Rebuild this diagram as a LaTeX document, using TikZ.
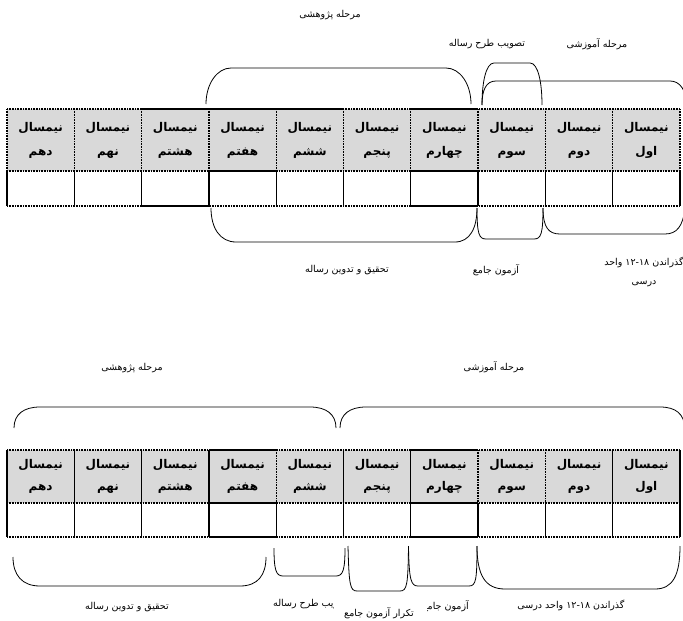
\documentclass[tikz,border=0pt]{standalone}
\usepackage{fontspec}
\usetikzlibrary{positioning}
\newfontfamily\farsi[Script=Arabic]{DejaVu Sans}
\TeXXeTstate=1
\newcommand{\fa}[1]{\beginR #1\endR}
\newlength{\cutlen}
\definecolor{headgray}{RGB}{217,217,217}

\begin{document}
\settowidth{\cutlen}{\farsi\fontsize{9.5}{18}\selectfont\fa{یب طرح رساله}}
\begin{tikzpicture}[x=1pt, y=-1pt, node distance = 67.3pt,
  head/.style={fill=headgray, minimum width=67.3pt, minimum height=62pt, inner sep=0pt, outer sep=0pt, align=center, font=\farsi\bfseries\fontsize{12}{24}\selectfont},
  lowhead/.style={head, minimum height=53pt, font=\farsi\bfseries\fontsize{12}{22}\selectfont},
  cell/.style={minimum width=67.3pt, minimum height=35pt, inner sep=0pt, outer sep=0pt},
  lowcell/.style={cell, minimum height=34pt},
  dots/.style={line width=1.3pt, dash pattern=on 0.8pt off 0.8pt},
  bar/.style={line width=1.3pt},
  brace/.style={line width=0.8pt},
  note/.style={font=\farsi\fontsize{9.5}{19}\selectfont, inner sep=0pt, align=center}]
          \useasboundingbox (0,0) rectangle (683,621);
          % first table
          \node[head](1)  at (646.35,140)   {\fa{نیمسال}\\\fa{اول}};
          \node[head](2)  [left of = 1]     {\fa{نیمسال}\\\fa{دوم}};
          \node[head](3)  [left of = 2]     {\fa{نیمسال}\\\fa{سوم}};
          \node[head](4)  [left of = 3]     {\fa{نیمسال}\\\fa{چهارم}};
          \node[head](5)  [left of = 4]     {\fa{نیمسال}\\\fa{پنجم}};
          \node[head](6)  [left of = 5]     {\fa{نیمسال}\\\fa{ششم}};
          \node[head](7)  [left of = 6]     {\fa{نیمسال}\\\fa{هفتم}};
          \node[head](8)  [left of = 7]     {\fa{نیمسال}\\\fa{هشتم}};
          \node[head](9)  [left of = 8]     {\fa{نیمسال}\\\fa{نهم}};
          \node[head](10) [left of = 9]     {\fa{نیمسال}\\\fa{دهم}};
          \node[cell](11) [node distance = 48.5pt, below of = 1] {};
          \node[cell](12) [left of = 11]    {};
          \node[cell](13) [left of = 12]    {};
          \node[cell](14) [left of = 13]    {};
          \node[cell](15) [left of = 14]    {};
          \node[cell](16) [left of = 15]    {};
          \node[cell](17) [left of = 16]    {};
          \node[cell](18) [left of = 17]    {};
          \node[cell](19) [left of = 18]    {};
          \node[cell](20) [left of = 19]    {};
          \draw[dots] (10.north west) -- (1.north east);
          \draw[bar]  (8.north west) -- (6.north east);
          \draw[bar]  (4.north west) -- (4.north east);
          \draw[dots] (10.south west) -- (1.south east);
          \draw[bar]  (7.south west) -- (7.south east);
          \draw[bar]  (4.south west) -- (4.south east);
          \draw[dots] (20.south west) -- (11.south east);
          \draw[bar]  (18.south west) -- (18.south east);
          \draw[bar]  (14.south west) -- (14.south east);
          \path[dots]
            (1.north east) edge (1.south east)
            (1.north west) edge (1.south west)
            (2.north west) edge (2.south west)
            (3.north west) edge (3.south west)
            (4.north west) edge (4.south west)
            (5.north west) edge (5.south west)
            (6.north west) edge (6.south west)
            (7.north west) edge (7.south west)
            (8.north west) edge (8.south west)
            (9.north west) edge (9.south west)
            (10.north west) edge (10.south west)
            ;
          \path[bar]
            (11.north east) edge (11.south east)
            (11.north west) edge (11.south west)
            (12.north west) edge (12.south west)
            (13.north west) edge (13.south west)
            (14.north west) edge (14.south west)
            (15.north west) edge (15.south west)
            (16.north west) edge (16.south west)
            (17.north west) edge (17.south west)
            (18.north west) edge (18.south west)
            (19.north west) edge (19.south west)
            (20.north west) edge (20.south west)
            ;
          % brackets of the first table
          \draw[brace] (206,104) .. controls (206,84) and (217,68) .. (231,68) -- (446,68) .. controls (460,68) and (471,84) .. (471,104);
          \draw[brace] (482,105) .. controls (482,82) and (486,63) .. (494,63) -- (530,63) .. controls (538,63) and (542,82) .. (542,105);
          \draw[brace] (482,105) .. controls (482,90) and (486,81) .. (496,81) -- (670,81) .. controls (680,81) and (686,90) .. (687,105);
          \draw[brace] (211,208) .. controls (211,228) and (220,242) .. (236,242) -- (455,242) .. controls (470,242) and (477,228) .. (477,208);
          \draw[brace] (477,208) .. controls (477,234) and (479,239) .. (486,239) -- (534,239) .. controls (541,239) and (543,234) .. (543,208);
          \draw[brace] (543,208) .. controls (543,228) and (549,234) .. (560,234) -- (665,234) .. controls (677,234) and (683,226) .. (685,208);
          \node[note](n1) at (330,15)  {\fa{مرحله پژوهشی}};
          \node[note](n2) at (487,44)  {\fa{تصویب طرح رساله}};
          \node[note](n3) at (597,44)  {\fa{مرحله آموزشی}};
          \node[note](n4) at (347,270) {\fa{تحقیق و تدوین رساله}};
          \node[note](n5) at (496,270) {\fa{آزمون جامع}};
          \node[note](n6) at (644,272) {\fa{گذراندن \beginL ۱۲-۱۸\endL{} واحد}\\\fa{درسی}};
          % second table
          \node[lowhead](21) at (646.35,476.5) {\fa{نیمسال}\\\fa{اول}};
          \node[lowhead](22) [left of = 21]   {\fa{نیمسال}\\\fa{دوم}};
          \node[lowhead](23) [left of = 22]   {\fa{نیمسال}\\\fa{سوم}};
          \node[lowhead](24) [left of = 23]   {\fa{نیمسال}\\\fa{چهارم}};
          \node[lowhead](25) [left of = 24]   {\fa{نیمسال}\\\fa{پنجم}};
          \node[lowhead](26) [left of = 25]   {\fa{نیمسال}\\\fa{ششم}};
          \node[lowhead](27) [left of = 26]   {\fa{نیمسال}\\\fa{هفتم}};
          \node[lowhead](28) [left of = 27]   {\fa{نیمسال}\\\fa{هشتم}};
          \node[lowhead](29) [left of = 28]   {\fa{نیمسال}\\\fa{نهم}};
          \node[lowhead](30) [left of = 29]   {\fa{نیمسال}\\\fa{دهم}};
          \node[lowcell](31) [node distance = 43.5pt, below of = 21] {};
          \node[lowcell](32) [left of = 31]   {};
          \node[lowcell](33) [left of = 32]   {};
          \node[lowcell](34) [left of = 33]   {};
          \node[lowcell](35) [left of = 34]   {};
          \node[lowcell](36) [left of = 35]   {};
          \node[lowcell](37) [left of = 36]   {};
          \node[lowcell](38) [left of = 37]   {};
          \node[lowcell](39) [left of = 38]   {};
          \node[lowcell](40) [left of = 39]   {};
          \draw[dots] (30.north west) -- (21.north east);
          \draw[bar]  (27.north west) -- (27.north east);
          \draw[bar]  (24.north west) -- (24.north east);
          \draw[dots] (30.south west) -- (21.south east);
          \draw[bar]  (27.south west) -- (27.south east);
          \draw[bar]  (24.south west) -- (24.south east);
          \draw[dots] (40.south west) -- (31.south east);
          \draw[bar]  (37.south west) -- (37.south east);
          \draw[bar]  (34.south west) -- (34.south east);
          \path[bar]
            (21.north east) edge (21.south east)
            (21.north west) edge (21.south west)
            (24.north west) edge (24.south west)
            (25.north west) edge (25.south west)
            (27.north west) edge (27.south west)
            (28.north west) edge (28.south west)
            (29.north west) edge (29.south west)
            (30.north west) edge (30.south west)
            ;
          \path[dots]
            (22.north west) edge (22.south west)
            (23.north west) edge (23.south west)
            (26.north west) edge (26.south west)
            ;
          \path[bar]
            (31.north east) edge (31.south east)
            (31.north west) edge (31.south west)
            (32.north west) edge (32.south west)
            (33.north west) edge (33.south west)
            (34.north west) edge (34.south west)
            (35.north west) edge (35.south west)
            (36.north west) edge (36.south west)
            (37.north west) edge (37.south west)
            (38.north west) edge (38.south west)
            (39.north west) edge (39.south west)
            (40.north west) edge (40.south west)
            ;
          % brackets of the second table
          \draw[brace] (14,428) .. controls (14,414) and (24,407) .. (40,407) -- (310,407) .. controls (326,407) and (336,414) .. (336,428);
          \draw[brace] (340,428) .. controls (340,414) and (350,407) .. (366,407) -- (660,407) .. controls (676,407) and (684,414) .. (685,428);
          \draw[brace] (13,557) .. controls (13,575) and (22,586) .. (40,586) -- (240,586) .. controls (258,586) and (266,575) .. (266,557);
          \draw[brace] (274,548) .. controls (274,570) and (276,576) .. (283,576) -- (336,576) .. controls (343,576) and (345,570) .. (345,548);
          \draw[brace] (348,546) .. controls (349,585) and (350,591) .. (357,591) -- (400,591) .. controls (407,591) and (408,585) .. (408.5,546);
          \draw[brace] (408.5,546) .. controls (409,580) and (411,586) .. (418,586) -- (469,586) .. controls (476,586) and (477,580) .. (477,546);
          \draw[brace] (477,546) .. controls (477,575) and (485,589) .. (505,589) -- (655,589) .. controls (673,589) and (680,575) .. (680,546);
          \node[note](n7) at (132,368) {\fa{مرحله پژوهشی}};
          \node[note](n8) at (494,367) {\fa{مرحله آموزشی}};
          \node[note](n9) at (127,607) {\fa{تحقیق و تدوین رساله}};
          \begin{scope}
            \clip (262,592) rectangle ([xshift=\cutlen+0.5pt] 273,620);
            \node[note, anchor=west](n10) at (273,604) {\fa{تصویب طرح رساله}};
          \end{scope}
          \node[note](n11) at (379,613) {\fa{تکرار آزمون جامع}};
          \begin{scope}
            \clip (427,592) rectangle (480,620);
            \node[note, anchor=east](n12) at (469,606) {\fa{آزمون جامع}};
          \end{scope}
          \node[note](n13) at (571,605) {\fa{گذراندن \beginL ۱۲-۱۸\endL{} واحد درسی}};
        \end{tikzpicture}
\end{document}
